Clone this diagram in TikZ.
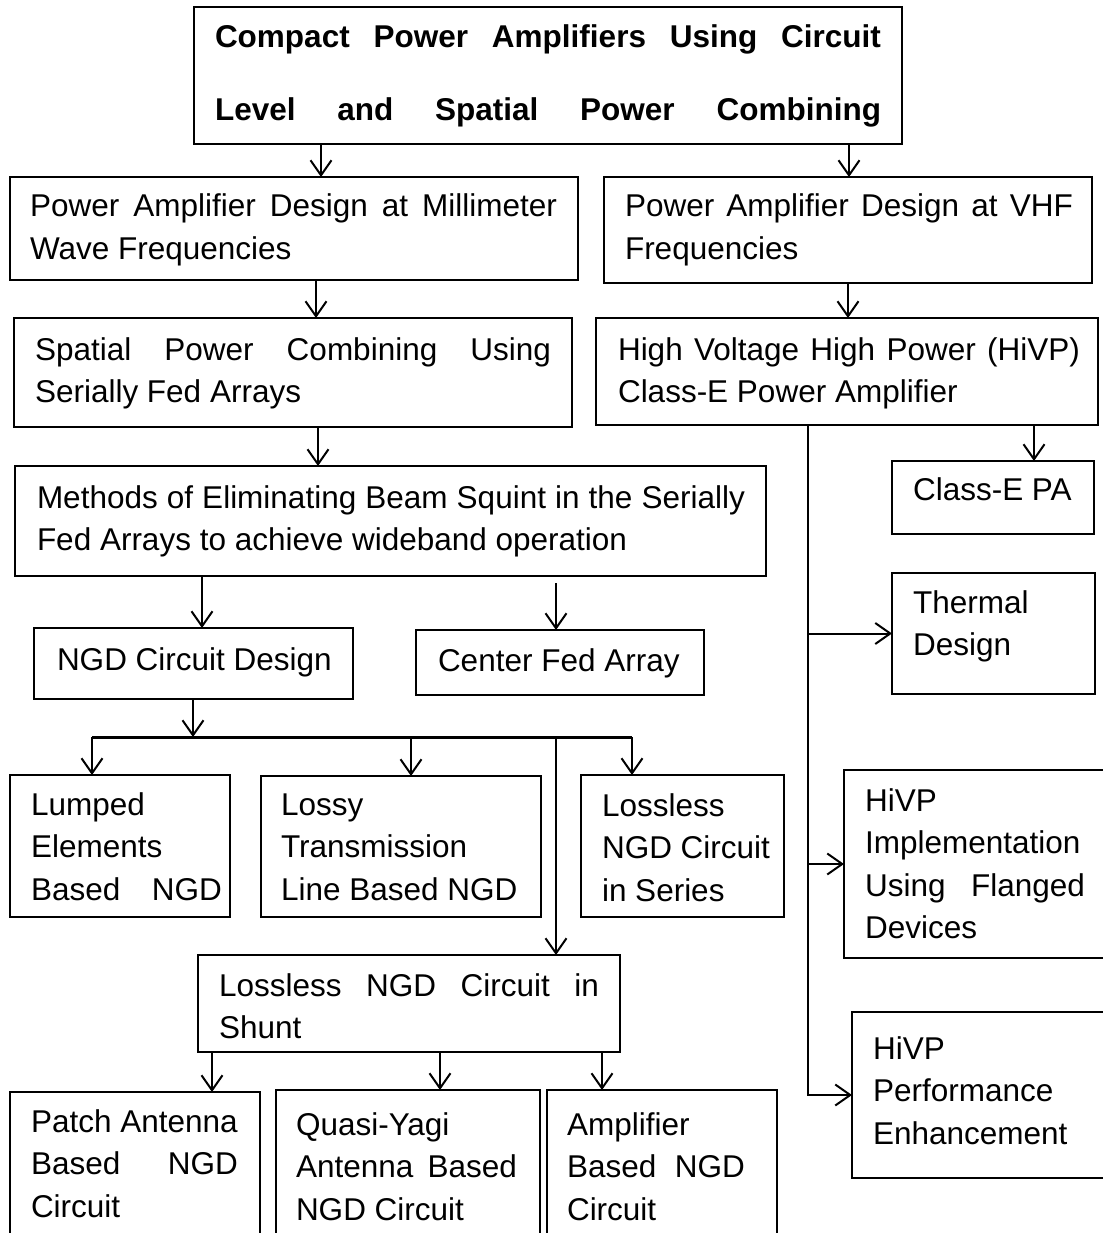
\documentclass[tikz,border=0pt]{standalone}
\usepackage{fontspec}
\setmainfont{Liberation Sans}
\usetikzlibrary{arrows.meta}
\newcommand\fs{\fontsize{31.5}{42.5}\selectfont}
\newcommand\J[2]{\makebox[#1pt][s]{#2}}
% name, x1, y1, x2, y2, text-left x, first baseline y, content
\newcommand\bx[8]{\node[box,anchor=north west] (#1) at (#2pt,-#3pt)
  {\parbox[t][\dimexpr#5pt-#3pt\relax][t]{\dimexpr#4pt-#2pt\relax}{\fs\leftskip=\dimexpr#6pt-#2pt\relax
   \vspace*{\dimexpr#7pt-#3pt-26pt\relax}\rule{0pt}{26pt}#8}};}
\tikzset{
  box/.style={draw=black, line width=2pt, inner sep=0pt, outer sep=0pt},
  arr/.style={draw=black, line width=2pt, -{Straight Barb[length=15pt,width=21pt]}},
  busline/.style={draw=black, line width=3pt}
}
\begin{document}
\begin{tikzpicture}
\fill[white] (0,0) rectangle (1102pt,-1233pt);
\useasboundingbox (0,0) rectangle (1102pt,-1233pt);
% boxes
\bx{top}{194}{7}{902}{144}{215}{48}{\bfseries\fontsize{31.5}{73}\selectfont\J{666}{Compact Power Amplifiers Using Circuit}\\\J{666}{Level and Spatial Power Combining}}
\bx{A}{10}{177}{578}{280}{30}{217}{\J{527}{Power Amplifier Design at Millimeter}\\Wave Frequencies}
\bx{B}{604}{177}{1092}{283}{625}{217}{\J{448}{Power Amplifier Design at VHF}\\Frequencies}
\bx{C}{14}{318}{572}{427}{35}{360}{\J{516}{Spatial Power Combining Using}\\Serially Fed Arrays}
\bx{D}{596}{318}{1098}{425}{618}{360}{\J{462}{High Voltage High Power (HiVP)}\\Class-E Power Amplifier}
\bx{E}{15}{466}{766}{576}{37}{508}{\J{708}{Methods of Eliminating Beam Squint in the Serially}\\Fed Arrays to achieve wideband operation}
\bx{F}{34}{628}{353}{699}{57}{670}{NGD Circuit Design}
\bx{G}{416}{630}{704}{695}{438}{671}{Center Fed Array}
\bx{H}{10}{775}{230}{917}{31}{815}{Lumped\\Elements\\\J{191}{Based NGD}}
\bx{I}{261}{776}{541}{917}{281}{815}{Lossy\\Transmission\\Line Based NGD}
\bx{Jb}{581}{775}{784}{917}{602}{816}{Lossless\\NGD Circuit\\in Series}
\bx{L}{198}{955}{620}{1052}{219}{996}{\J{380}{Lossless NGD Circuit in}\\Shunt}
\bx{M}{10}{1092}{260}{1260}{31}{1132}{Patch Antenna\\\J{207}{Based NGD}\\Circuit}
\bx{N}{276}{1090}{540}{1260}{296}{1135}{Quasi-Yagi\\\J{221}{Antenna Based}\\NGD Circuit}
\bx{O}{547}{1090}{777}{1260}{567}{1135}{Amplifier\\\J{178}{Based NGD}\\Circuit}
\bx{K}{892}{461}{1094}{534}{913}{500}{Class-E PA}
\bx{T}{892}{573}{1095}{694}{913}{613}{Thermal\\Design}
\bx{impl}{844}{770}{1115}{958}{865}{811}{HiVP\\Implementation\\\J{220}{Using Flanged}\\Devices}
\bx{perf}{852}{1012}{1115}{1178}{873}{1059}{HiVP\\Performance\\Enhancement}
% x positions of connectors
\coordinate (c321) at (321pt,0);
\coordinate (c849) at (849pt,0);
\coordinate (c316) at (316pt,0);
\coordinate (c848) at (848pt,0);
\coordinate (c318) at (318pt,0);
\coordinate (c202) at (202pt,0);
\coordinate (c556) at (556pt,0);
\coordinate (c193) at (193pt,0);
\coordinate (c411) at (411pt,0);
\coordinate (c212) at (212pt,0);
\coordinate (c440) at (440pt,0);
\coordinate (c602) at (602pt,0);
\coordinate (c1034) at (1034pt,0);
\coordinate (tr) at (808pt,0);
\coordinate (busL) at (92pt,-737pt);
\coordinate (busR) at (632pt,-737pt);
% connectors
\draw[arr] (top.south -| c321) -- (A.north -| c321);
\draw[arr] (top.south -| c849) -- (B.north -| c849);
\draw[arr] (A.south -| c316) -- (C.north -| c316);
\draw[arr] (B.south -| c848) -- (D.north -| c848);
\draw[arr] (C.south -| c318) -- (E.north -| c318);
\draw[arr] (E.south -| c202) -- (F.north -| c202);
\draw[arr] ([yshift=-7pt]E.south -| c556) -- (G.north -| c556);
\draw[arr] (F.south -| c193) -- (busL -| c193);
\draw[busline] (busL) -- (busR);
\draw[arr] (busL) -- (H.north -| busL);
\draw[arr] (busL -| c411) -- (I.north -| c411);
\draw[arr] (busR) -- (Jb.north -| busR);
\draw[arr] (busL -| c556) -- (L.north -| c556);
\draw[arr] (L.south -| c212) -- (M.north -| c212);
\draw[arr] (L.south -| c440) -- (N.north -| c440);
\draw[arr] (L.south -| c602) -- (O.north -| c602);
\draw[arr] (D.south -| c1034) -- (K.north -| c1034);
\draw[arr] (D.south -| tr) |- (perf.west);
\draw[arr] (T.west -| tr) -- (T.west);
\draw[arr] (impl.west -| tr) -- (impl.west);
\end{tikzpicture}
\end{document}
